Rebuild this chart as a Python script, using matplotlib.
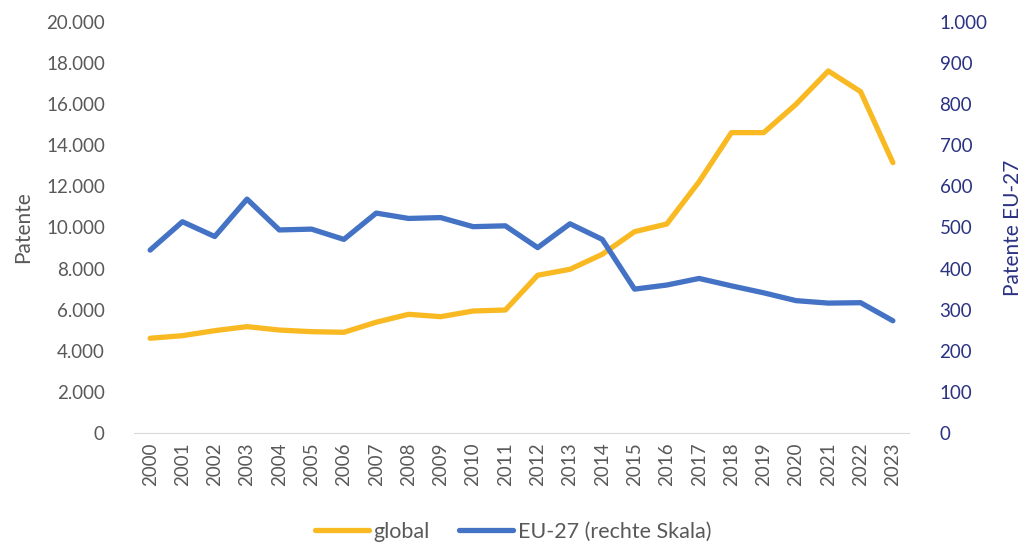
import numpy as np
import matplotlib.pyplot as plt
from matplotlib.ticker import FuncFormatter

# data
years = list(range(2000, 2024))
global_pat = [4610, 4735, 4980, 5175, 5010, 4930, 4900, 5390, 5775, 5660,
              5935, 5985, 7675, 7965, 8695, 9795, 10170, 12230, 14615, 14615,
              15995, 17615, 16610, 13155]
eu27_pat = [445, 514, 478, 569, 494, 496, 471, 535, 522, 524,
            502, 504, 451, 509, 471, 350, 360, 376, 358, 341,
            322, 316, 317, 273]

orange = '#F9B922'
blue = '#4472C4'
navy = '#2A3282'
grey = '#595959'

plt.rcParams['font.family'] = ['Lato', 'DejaVu Sans']

def dot_thousands(v, pos):
    return f'{int(round(v)):,}'.replace(',', '.')

fig = plt.figure(figsize=(10.26, 5.49), dpi=100)
ax = fig.add_axes([0.1306, 0.2113, 0.7554, 0.7487])
ax2 = ax.twinx()

x = np.arange(len(years))
l1, = ax.plot(x, global_pat, color=orange, lw=3.8, solid_capstyle='round', label='global')
l2, = ax2.plot(x, eu27_pat, color=blue, lw=3.8, solid_capstyle='round', label='EU-27 (rechte Skala)')

ax.set_xlim(-0.5, len(years) - 0.5)
ax.set_ylim(0, 20000)
ax.set_yticks(np.arange(0, 20001, 2000))
ax2.set_ylim(0, 1000)
ax2.set_yticks(np.arange(0, 1001, 100))
ax.yaxis.set_major_formatter(FuncFormatter(dot_thousands))
ax2.yaxis.set_major_formatter(FuncFormatter(dot_thousands))

ax.set_xticks(x)
ax.set_xticklabels([str(y) for y in years], rotation=90)

for a in (ax, ax2):
    for s in ('top', 'left', 'right'):
        a.spines[s].set_visible(False)
    a.spines['bottom'].set_color('#D9D9D9')
    a.tick_params(length=0)
ax2.spines['bottom'].set_visible(False)

ax.tick_params(axis='y', colors=grey, labelsize=13.5, pad=21)
ax.tick_params(axis='x', colors=grey, labelsize=13.5, pad=7)
ax2.tick_params(axis='y', colors=navy, labelsize=13.5, pad=22)

ax.set_ylabel('Patente', color=grey, fontsize=15, labelpad=9)
ax2.set_ylabel('Patente EU-27', color=navy, fontsize=15, labelpad=11)

fig.legend([l1, l2], ['global', 'EU-27 (rechte Skala)'], loc='lower center',
           bbox_to_anchor=(0.5, -0.022), ncol=2, frameon=False, fontsize=15.5,
           handlelength=2.5, handletextpad=0.2, columnspacing=1.4,
           labelcolor=grey)

fig.savefig('out.png', dpi=100)
